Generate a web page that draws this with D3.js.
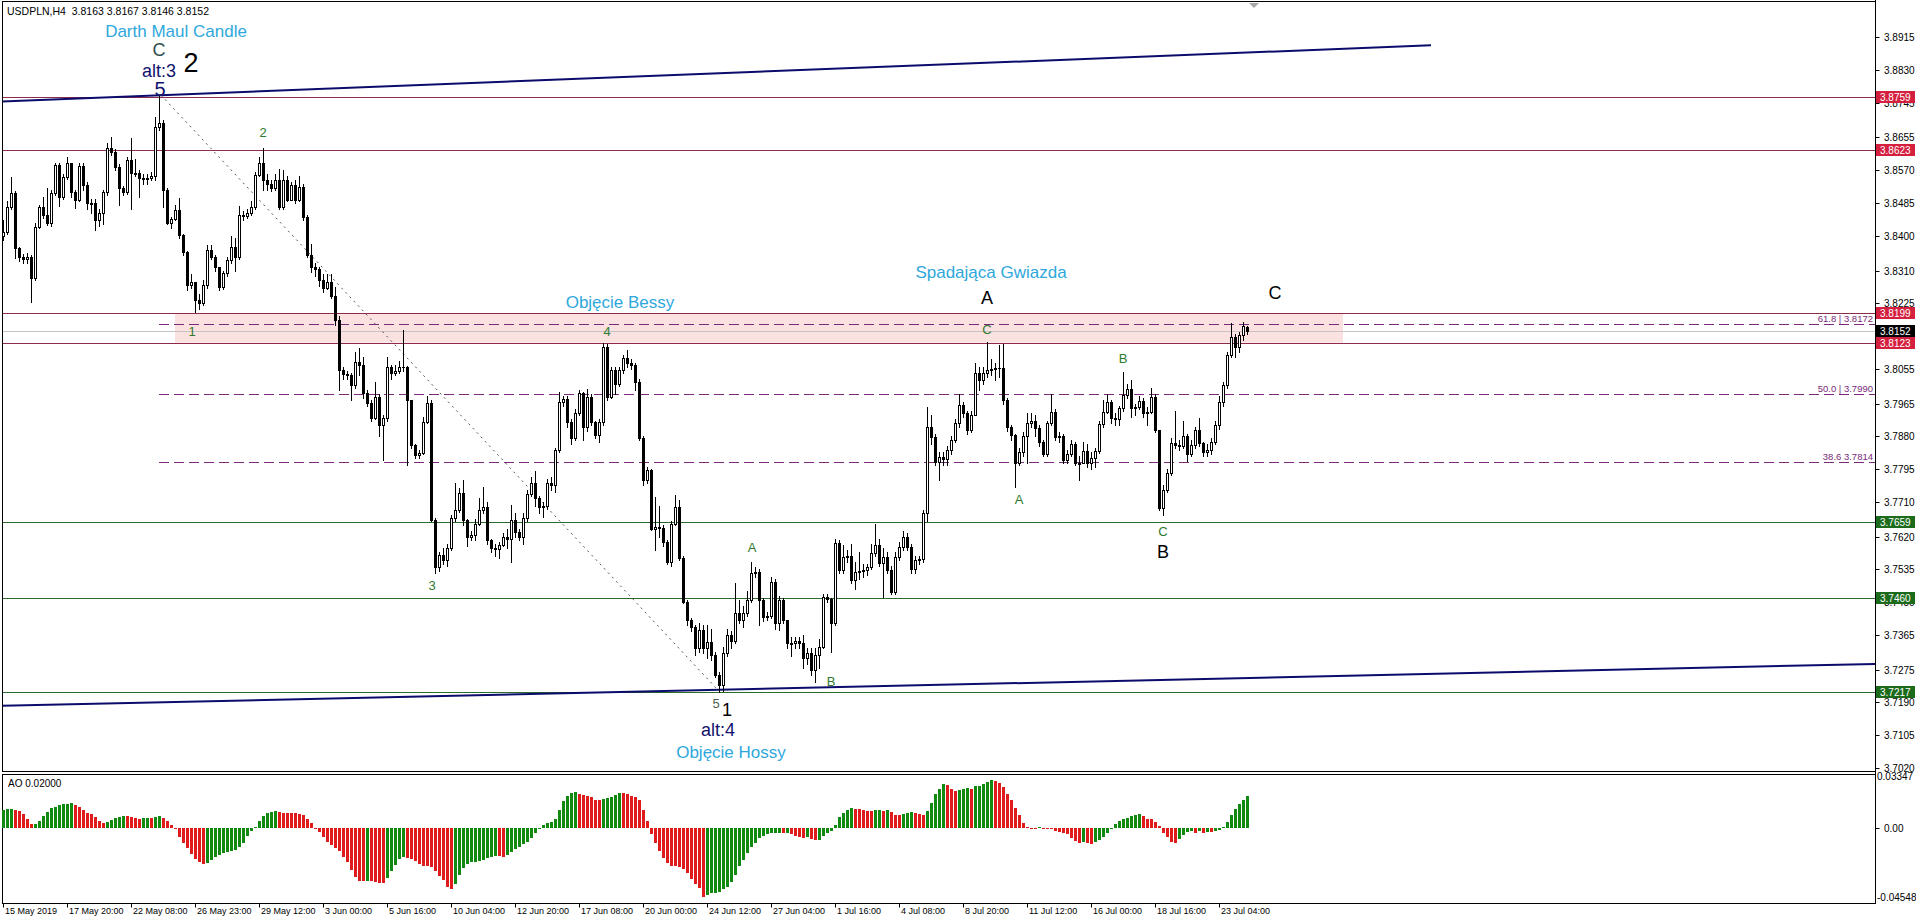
<!DOCTYPE html>
<html><head><meta charset="utf-8">
<script src="https://cdn.jsdelivr.net/npm/d3@7"></script>
<style>
body{margin:0;background:#fff;}
svg{display:block;}
text{font-family:"Liberation Sans",Arial,sans-serif;}
</style>
</head><body>
<svg id="chart" width="1916" height="923"></svg>
<script>
// ---------------- DATA ----------------
const symbolHeader = "USDPLN,H4  3.8163 3.8167 3.8146 3.8152";
const firstOpen = 3.8400;
const lastOpen = 3.8163;
const closes = [
3.8411,3.8476,3.8510,3.8368,3.8346,3.8340,3.8346,3.8290,3.8424,3.8476,
3.8454,3.8432,3.8510,3.8584,3.8501,3.8553,3.8588,3.8514,3.8493,3.8581,
3.8532,3.8484,3.8484,3.8441,3.8458,3.8514,3.8627,3.8617,3.8579,3.8523,
3.8514,3.8597,3.8562,3.8562,3.8550,3.8547,3.8550,3.8556,3.8683,3.8692,
3.8519,3.8432,3.8444,3.8467,3.8402,3.8359,3.8272,3.8280,3.8233,3.8226,
3.8272,3.8363,3.8346,3.8320,3.8268,3.8303,3.8337,3.8371,3.8346,3.8454,
3.8452,3.8460,3.8476,3.8558,3.8588,3.8545,3.8535,3.8524,3.8545,3.8476,
3.8545,3.8493,3.8532,3.8493,3.8527,3.8449,3.8350,3.8320,3.8315,3.8285,
3.8265,3.8280,3.8245,3.8182,3.8052,3.8042,3.8040,3.8013,3.8074,3.8065,
3.7992,3.7966,3.7927,3.7983,3.7909,3.7927,3.8061,3.8044,3.8050,3.8061,
3.8060,3.7974,3.7857,3.7832,3.7838,3.7918,3.7966,3.7663,3.7542,3.7572,
3.7559,3.7590,3.7667,3.7689,3.7732,3.7663,3.7620,3.7625,3.7654,3.7689,
3.7698,3.7611,3.7590,3.7588,3.7598,3.7620,3.7614,3.7663,3.7633,3.7620,
3.7667,3.7730,3.7758,3.7720,3.7696,3.7700,3.7758,3.7755,3.7845,3.7970,
3.7977,3.7918,3.7875,3.7940,3.7992,3.7905,3.7983,3.7918,3.7883,3.7916,
3.8112,3.7983,3.8052,3.8017,3.8052,3.8082,3.8069,3.8065,3.8022,3.7875,
3.7767,3.7793,3.7641,3.7645,3.7642,3.7607,3.7555,3.7654,3.7698,3.7564,
3.7451,3.7404,3.7385,3.7330,3.7378,3.7330,3.7347,3.7313,3.7261,3.7235,
3.7317,3.7365,3.7350,3.7421,3.7405,3.7421,3.7456,3.7525,3.7528,3.7456,
3.7412,3.7415,3.7503,3.7395,3.7456,3.7404,3.7343,3.7345,3.7350,3.7343,
3.7304,3.7317,3.7274,3.7313,3.7334,3.7464,3.7459,3.7395,3.7603,3.7533,
3.7568,3.7570,3.7507,3.7529,3.7531,3.7534,3.7542,3.7577,3.7598,3.7551,
3.7568,3.7533,3.7477,3.7568,3.7594,3.7618,3.7594,3.7535,3.7559,3.7562,
3.7680,3.7905,3.7879,3.7814,3.7827,3.7820,3.7845,3.7870,3.7914,3.7961,
3.7940,3.7896,3.7935,3.8043,3.8026,3.8043,3.8052,3.8055,3.8057,3.8056,
3.7974,3.7905,3.7883,3.7812,3.7840,3.7881,3.7915,3.7921,3.7901,3.7866,
3.7834,3.7915,3.7944,3.7879,3.7882,3.7819,3.7834,3.7860,3.7810,3.7812,
3.7843,3.7810,3.7825,3.7843,3.7912,3.7943,3.7970,3.7927,3.7925,3.7953,
3.7987,3.8004,3.7953,3.7955,3.7972,3.7940,3.7944,3.7983,3.7896,3.7693,
3.7741,3.7784,3.7862,3.7857,3.7855,3.7881,3.7835,3.7857,3.7896,3.7863,
3.7840,3.7845,3.7866,3.7909,3.7970,3.8013,3.8091,3.8138,3.8111,3.8143,
3.8166,3.8152];
const highs = [
3.8440,3.8490,3.8553,3.8515,3.8370,3.8352,3.8355,3.8350,3.8432,3.8480,
3.8500,3.8523,3.8520,3.8590,3.8590,3.8560,3.8605,3.8585,3.8520,3.8588,
3.8590,3.8540,3.8495,3.8495,3.8470,3.8520,3.8640,3.8657,3.8625,3.8585,
3.8530,3.8605,3.8653,3.8600,3.8570,3.8560,3.8560,3.8565,3.8709,3.8765,
3.8700,3.8525,3.8450,3.8480,3.8497,3.8405,3.8360,3.8300,3.8280,3.8250,
3.8285,3.8377,3.8375,3.8350,3.8320,3.8310,3.8345,3.8400,3.8395,3.8478,
3.8465,3.8470,3.8490,3.8565,3.8605,3.8628,3.8560,3.8545,3.8560,3.8574,
3.8570,3.8555,3.8540,3.8545,3.8555,3.8535,3.8455,3.8380,3.8330,3.8320,
3.8300,3.8300,3.8300,3.8268,3.8193,3.8060,3.8050,3.8045,3.8100,3.8110,
3.8085,3.8000,3.7975,3.8020,3.7990,3.7935,3.8087,3.8065,3.8065,3.8075,
3.8156,3.8062,3.7975,3.7860,3.7845,3.7930,3.7985,3.7975,3.7668,3.7580,
3.7590,3.7600,3.7675,3.7758,3.7745,3.7767,3.7665,3.7635,3.7665,3.7720,
3.7748,3.7710,3.7615,3.7600,3.7605,3.7630,3.7640,3.7702,3.7680,3.7640,
3.7680,3.7740,3.7775,3.7790,3.7725,3.7710,3.7770,3.7775,3.7850,3.7996,
3.7985,3.7985,3.7925,3.7950,3.8000,3.7995,3.8004,3.7990,3.7920,3.7925,
3.8121,3.8120,3.8060,3.8060,3.8060,3.8090,3.8104,3.8080,3.8070,3.8030,
3.7880,3.7800,3.7795,3.7723,3.7700,3.7650,3.7610,3.7660,3.7728,3.7715,
3.7570,3.7455,3.7410,3.7390,3.7395,3.7392,3.7390,3.7380,3.7320,3.7270,
3.7335,3.7380,3.7375,3.7500,3.7455,3.7440,3.7480,3.7555,3.7540,3.7535,
3.7460,3.7425,3.7516,3.7510,3.7465,3.7460,3.7405,3.7360,3.7360,3.7360,
3.7365,3.7330,3.7330,3.7330,3.7355,3.7470,3.7470,3.7460,3.7615,3.7610,
3.7598,3.7585,3.7600,3.7555,3.7580,3.7550,3.7550,3.7600,3.7654,3.7615,
3.7590,3.7580,3.7545,3.7580,3.7605,3.7635,3.7630,3.7600,3.7570,3.7570,
3.7690,3.7957,3.7935,3.7885,3.7840,3.7840,3.7855,3.7880,3.7925,3.7991,
3.7970,3.7945,3.7945,3.8069,3.8060,3.8060,3.8125,3.8080,3.8070,3.8117,
3.8119,3.7980,3.7910,3.7885,3.7850,3.7890,3.7940,3.7940,3.7935,3.7910,
3.7870,3.7920,3.7990,3.7950,3.7890,3.7885,3.7845,3.7870,3.7865,3.7830,
3.7865,3.7860,3.7840,3.7850,3.7920,3.7975,3.7990,3.7975,3.7940,3.7960,
3.8047,3.8015,3.8026,3.7965,3.7985,3.7980,3.7955,3.8005,3.7990,3.7895,
3.7755,3.7795,3.7875,3.7946,3.7870,3.7920,3.7885,3.7870,3.7905,3.7927,
3.7865,3.7860,3.7875,3.7920,3.7985,3.8020,3.8100,3.8175,3.8145,3.8150,
3.8177,3.8167];
const lows = [
3.8390,3.8405,3.8470,3.8342,3.8335,3.8330,3.8330,3.8229,3.8285,3.8420,
3.8445,3.8428,3.8425,3.8505,3.8478,3.8495,3.8548,3.8500,3.8472,3.8490,
3.8520,3.8470,3.8460,3.8415,3.8425,3.8430,3.8505,3.8610,3.8570,3.8480,
3.8505,3.8508,3.8470,3.8555,3.8500,3.8535,3.8535,3.8545,3.8545,3.8675,
3.8476,3.8430,3.8420,3.8440,3.8395,3.8350,3.8260,3.8265,3.8203,3.8210,
3.8220,3.8265,3.8340,3.8310,3.8260,3.8262,3.8295,3.8330,3.8310,3.8340,
3.8440,3.8445,3.8455,3.8470,3.8555,3.8520,3.8520,3.8515,3.8520,3.8470,
3.8470,3.8490,3.8495,3.8485,3.8490,3.8440,3.8345,3.8305,3.8295,3.8270,
3.8255,3.8262,3.8240,3.8170,3.8000,3.8030,3.8030,3.7975,3.8005,3.8040,
3.7980,3.7960,3.7920,3.7925,3.7880,3.7819,3.7920,3.8030,3.8040,3.8045,
3.8050,3.7806,3.7850,3.7825,3.7825,3.7835,3.7915,3.7660,3.7525,3.7530,
3.7550,3.7545,3.7585,3.7660,3.7685,3.7650,3.7596,3.7610,3.7612,3.7650,
3.7680,3.7600,3.7580,3.7570,3.7565,3.7595,3.7590,3.7555,3.7620,3.7610,
3.7600,3.7660,3.7725,3.7700,3.7680,3.7670,3.7692,3.7740,3.7735,3.7840,
3.7960,3.7905,3.7860,3.7870,3.7935,3.7870,3.7895,3.7910,3.7875,3.7866,
3.7910,3.7975,3.7980,3.7990,3.8010,3.8045,3.8060,3.8055,3.8000,3.7870,
3.7755,3.7760,3.7638,3.7585,3.7620,3.7595,3.7550,3.7545,3.7650,3.7560,
3.7448,3.7390,3.7375,3.7313,3.7320,3.7318,3.7305,3.7300,3.7255,3.7217,
3.7220,3.7310,3.7330,3.7345,3.7395,3.7385,3.7415,3.7450,3.7515,3.7390,
3.7400,3.7405,3.7410,3.7380,3.7378,3.7395,3.7330,3.7310,3.7330,3.7330,
3.7280,3.7290,3.7260,3.7244,3.7280,3.7330,3.7450,3.7322,3.7390,3.7525,
3.7525,3.7555,3.7500,3.7484,3.7510,3.7515,3.7520,3.7535,3.7570,3.7545,
3.7464,3.7525,3.7470,3.7470,3.7560,3.7585,3.7585,3.7525,3.7525,3.7550,
3.7555,3.7660,3.7860,3.7805,3.7766,3.7805,3.7805,3.7835,3.7865,3.7905,
3.7930,3.7885,3.7890,3.7935,3.8000,3.8015,3.8035,3.8040,3.8025,3.8035,
3.7965,3.7895,3.7870,3.7749,3.7805,3.7830,3.7810,3.7905,3.7880,3.7855,
3.7830,3.7830,3.7910,3.7870,3.7865,3.7810,3.7810,3.7830,3.7805,3.7768,
3.7810,3.7800,3.7795,3.7800,3.7838,3.7905,3.7940,3.7915,3.7910,3.7910,
3.7945,3.7980,3.7930,3.7935,3.7950,3.7930,3.7910,3.7940,3.7890,3.7688,
3.7676,3.7735,3.7780,3.7850,3.7845,3.7850,3.7815,3.7830,3.7850,3.7855,
3.7830,3.7830,3.7835,3.7860,3.7900,3.7960,3.8005,3.8085,3.8087,3.8100,
3.8130,3.8146];
const aoValues = [
0.0110,0.0116,0.0120,0.0114,0.0103,0.0083,0.0058,0.0021,0.0025,0.0045,
0.0072,0.0101,0.0122,0.0132,0.0141,0.0149,0.0151,0.0155,0.0141,0.0128,
0.0110,0.0095,0.0085,0.0068,0.0043,0.0029,0.0037,0.0048,0.0060,0.0066,
0.0076,0.0076,0.0070,0.0064,0.0058,0.0062,0.0064,0.0060,0.0070,0.0074,
0.0064,0.0041,0.0019,-0.0004,-0.0060,-0.0093,-0.0128,-0.0163,-0.0192,-0.0213,
-0.0223,-0.0221,-0.0200,-0.0182,-0.0167,-0.0155,-0.0151,-0.0145,-0.0136,-0.0122,
-0.0093,-0.0048,-0.0021,0.0004,0.0043,0.0072,0.0093,0.0099,0.0105,0.0099,
0.0093,0.0093,0.0091,0.0091,0.0089,0.0081,0.0058,0.0031,-0.0002,-0.0023,
-0.0058,-0.0087,-0.0107,-0.0126,-0.0147,-0.0180,-0.0215,-0.0262,-0.0304,-0.0329,
-0.0333,-0.0329,-0.0331,-0.0335,-0.0341,-0.0341,-0.0314,-0.0269,-0.0231,-0.0196,
-0.0184,-0.0190,-0.0196,-0.0207,-0.0225,-0.0240,-0.0240,-0.0244,-0.0269,-0.0298,
-0.0324,-0.0366,-0.0382,-0.0349,-0.0293,-0.0252,-0.0225,-0.0215,-0.0211,-0.0207,
-0.0198,-0.0190,-0.0180,-0.0172,-0.0172,-0.0180,-0.0169,-0.0149,-0.0132,-0.0118,
-0.0101,-0.0085,-0.0064,-0.0031,-0.0006,0.0017,0.0027,0.0039,0.0058,0.0110,
0.0167,0.0198,0.0217,0.0223,0.0213,0.0207,0.0200,0.0192,0.0176,0.0176,
0.0182,0.0186,0.0192,0.0205,0.0215,0.0215,0.0209,0.0198,0.0190,0.0174,
0.0110,0.0043,-0.0039,-0.0097,-0.0143,-0.0190,-0.0221,-0.0238,-0.0238,-0.0242,
-0.0256,-0.0283,-0.0318,-0.0349,-0.0376,-0.0428,-0.0417,-0.0407,-0.0403,-0.0397,
-0.0382,-0.0370,-0.0335,-0.0293,-0.0238,-0.0200,-0.0159,-0.0122,-0.0093,-0.0066,
-0.0052,-0.0039,-0.0035,-0.0034,-0.0033,-0.0033,-0.0031,-0.0039,-0.0052,-0.0060,
-0.0066,-0.0060,-0.0072,-0.0076,-0.0074,-0.0052,-0.0031,-0.0019,0.0017,0.0068,
0.0095,0.0110,0.0126,0.0120,0.0116,0.0114,0.0105,0.0103,0.0108,0.0110,
0.0105,0.0108,0.0099,0.0079,0.0078,0.0089,0.0093,0.0099,0.0095,0.0085,
0.0079,0.0105,0.0157,0.0209,0.0244,0.0271,0.0265,0.0240,0.0227,0.0238,
0.0244,0.0250,0.0244,0.0258,0.0262,0.0271,0.0285,0.0296,0.0289,0.0279,
0.0254,0.0213,0.0172,0.0126,0.0079,0.0031,0.0006,-0.0004,-0.0006,0.0006,
-0.0001,-0.0006,-0.0010,-0.0019,-0.0025,-0.0031,-0.0039,-0.0066,-0.0081,-0.0097,
-0.0087,-0.0097,-0.0098,-0.0087,-0.0076,-0.0060,-0.0031,-0.0004,0.0023,0.0043,
0.0054,0.0064,0.0072,0.0079,0.0085,0.0072,0.0058,0.0052,0.0037,0.0010,
-0.0031,-0.0060,-0.0087,-0.0093,-0.0072,-0.0045,-0.0025,-0.0019,-0.0031,-0.0019,
-0.0031,-0.0025,-0.0025,-0.0021,-0.0014,0.0006,0.0037,0.0079,0.0120,0.0151,
0.0176,0.0196];
const timeLabels = ["15 May 2019","17 May 20:00","22 May 08:00","26 May 23:00","29 May 12:00",
"3 Jun 00:00","5 Jun 16:00","10 Jun 04:00","12 Jun 20:00","17 Jun 08:00","20 Jun 00:00",
"24 Jun 12:00","27 Jun 04:00","1 Jul 16:00","4 Jul 08:00","8 Jul 20:00","11 Jul 12:00",
"16 Jul 00:00","18 Jul 16:00","23 Jul 04:00"];
const barsPerLabel = 16;
const priceTicks = [3.8915,3.8830,3.8745,3.8655,3.8570,3.8485,3.8400,3.8310,3.8225,
3.8055,3.7965,3.7880,3.7795,3.7710,3.7620,3.7535,3.7450,3.7365,3.7275,3.7190,3.7105,3.7020];
const redLevels = [3.8759, 3.8623, 3.8199, 3.8123];
const greenLevels = [3.7659, 3.7460, 3.7217];
const bidPrice = 3.8152;
const fibRatios = ["61.8","50.0","38.6"];
const fibPrices = [3.8172, 3.7990, 3.7814];
const fibStartBar = 39;
const zoneTop = 3.8199, zoneBottom = 3.8123, zoneStartBar = 43, zoneEndBar = 335;
const upperChannel = [[-1, 3.8748],[357, 3.8894]];
const lowerChannel = [[-1, 3.7181],[468, 3.7290]];
const waveLine = [[39.5, 3.8765],[178.5, 3.7225]];
const aoMax = 0.03347, aoMin = -0.04548;
const aoTickLabels = ["0.03347","0.00","-0.04548"];
const annotations = [
 {text:"Darth Maul Candle", bar:43.25, price:3.8931, kind:"pattern"},
 {text:"C", bar:39, price:3.8882, kind:"dark"},
 {text:"alt:3", bar:39, price:3.8827, kind:"alt"},
 {text:"2", bar:47, price:3.8848, kind:"big"},
 {text:"5", bar:39.25, price:3.8781, kind:"alt5"},
 {text:"2", bar:65, price:3.8667, kind:"minor"},
 {text:"1", bar:47.25, price:3.8151, kind:"minor"},
 {text:"3", bar:107.25, price:3.7492, kind:"minor"},
 {text:"4", bar:151, price:3.8153, kind:"minor"},
 {text:"Objęcie Bessy", bar:154.25, price:3.8226, kind:"pattern"},
 {text:"5", bar:178.25, price:3.7188, kind:"minorDark"},
 {text:"1", bar:181, price:3.7170, kind:"major"},
 {text:"alt:4", bar:178.75, price:3.7118, kind:"alt"},
 {text:"Objęcie Hossy", bar:182, price:3.7061, kind:"pattern"},
 {text:"A", bar:187.25, price:3.7593, kind:"minor"},
 {text:"B", bar:207, price:3.7245, kind:"minor"},
 {text:"Spadająca Gwiazda", bar:247, price:3.8304, kind:"pattern"},
 {text:"A", bar:246, price:3.8239, kind:"major"},
 {text:"C", bar:246, price:3.8156, kind:"minor"},
 {text:"A", bar:254, price:3.7715, kind:"minor"},
 {text:"B", bar:280, price:3.8081, kind:"minor"},
 {text:"C", bar:290, price:3.7634, kind:"minor"},
 {text:"B", bar:290, price:3.7580, kind:"major"},
 {text:"C", bar:318, price:3.8252, kind:"major"}
];

// ---------------- LAYOUT ----------------
const W = 1916, H = 923;
const axisX = 1875.5;
const mainTop = 1.5, mainBottom = 771.5, aoTop = 774.5, aoBottom = 903.5, left = 2.5;
const svg = d3.select("#chart");
const n = closes.length;
const opens = closes.map((c,i) => i === 0 ? firstOpen : (i === n-1 ? lastOpen : closes[i-1]));

const x = d3.scaleLinear().domain([0, n-1]).range([3, 3 + 4*(n-1)]);
const y = d3.scaleLinear().domain([3.7020, 3.8830]).range([768, 70]);
const yAO = d3.scaleLinear().domain([aoMin, aoMax]).range([901, 774]);

const kindStyle = {
  pattern:{fill:"#2EA8DC", size:17},
  dark:{fill:"#2F4F4F", size:18},
  alt:{fill:"#12126E", size:18},
  alt5:{fill:"#12126E", size:20},
  big:{fill:"#000", size:27},
  major:{fill:"#000", size:18},
  minor:{fill:"#2E7A2E", size:13},
  minorDark:{fill:"#4B5E4B", size:13}
};

svg.append("rect").attr("width",W).attr("height",H).attr("fill","#fff");
const defs = svg.append("defs");
defs.append("clipPath").attr("id","mainClip").append("rect")
  .attr("x",left).attr("y",mainTop).attr("width",axisX-left).attr("height",mainBottom-mainTop);

const main = svg.append("g").attr("clip-path","url(#mainClip)");

// zone rectangle
main.append("rect")
  .attr("x", x(zoneStartBar)).attr("width", x(zoneEndBar)-x(zoneStartBar))
  .attr("y", y(zoneTop)).attr("height", y(zoneBottom)-y(zoneTop))
  .attr("fill","#FCE1E1");

// horizontal levels
const hline = (p, color, w) => main.append("line")
  .attr("x1",left).attr("x2",axisX)
  .attr("y1",Math.round(y(p))+0.5).attr("y2",Math.round(y(p))+0.5)
  .attr("stroke",color).attr("stroke-width",w||1);
redLevels.forEach(p => hline(p, "#8E2B4C"));
greenLevels.forEach(p => hline(p, "#2C6B2C"));
hline(bidPrice, "#C4C4C4");

// fib dashed lines
fibPrices.forEach((p,i) => {
  main.append("line").attr("x1",x(fibStartBar)).attr("x2",axisX)
    .attr("y1",Math.round(y(p))+0.5).attr("y2",Math.round(y(p))+0.5)
    .attr("stroke","#7A2A78").attr("stroke-width",1).attr("stroke-dasharray","10,5");
});

// channel lines
const line = d3.line().x(d => x(d[0])).y(d => y(d[1]));
main.append("path").attr("d", line(upperChannel)).attr("stroke","#0B0B6B").attr("stroke-width",2).attr("fill","none");
main.append("path").attr("d", line(lowerChannel)).attr("stroke","#0B0B6B").attr("stroke-width",2).attr("fill","none");
main.append("path").attr("d", line(waveLine)).attr("stroke","#555").attr("stroke-width",1)
  .attr("stroke-dasharray","2,4").attr("fill","none");

// candles
const candles = main.append("g").attr("shape-rendering","crispEdges");
closes.forEach((c,i) => {
  const o = opens[i], h = highs[i], l = lows[i];
  const cx = Math.round(x(i));
  const top = Math.round(y(Math.max(o,c))), bot = Math.round(y(Math.min(o,c)));
  const yh = Math.round(y(Math.max(h, o, c))), yl = Math.round(y(Math.min(l, o, c)));
  candles.append("line").attr("x1",cx+0.5).attr("x2",cx+0.5).attr("y1",yh).attr("y2",yl+1)
    .attr("stroke","#000").attr("stroke-width",1);
  if (c >= o) {
    candles.append("rect").attr("x",cx-0.5).attr("y",top+0.5)
      .attr("width",2).attr("height",Math.max(bot-top,1))
      .attr("fill","#fff").attr("stroke","#000").attr("stroke-width",1);
  } else {
    candles.append("rect").attr("x",cx-1).attr("y",top)
      .attr("width",3).attr("height",Math.max(bot-top+1,1)).attr("fill","#000");
  }
});

// annotations
annotations.forEach(a => {
  const s = kindStyle[a.kind];
  svg.append("text").attr("x",x(a.bar)).attr("y",y(a.price))
    .attr("text-anchor","middle").attr("dominant-baseline","central")
    .attr("font-size",s.size).attr("fill",s.fill).text(a.text);
});

// shift marker
svg.append("path").attr("d","M1249,3 L1259,3 L1254,8 Z").attr("fill","#A8A8A8");

// header
svg.append("text").attr("x",7).attr("y",15).attr("font-size",10.5).attr("fill","#000")
  .attr("xml:space","preserve").style("white-space","pre").text(symbolHeader);

// panel borders
svg.append("rect").attr("x",left).attr("y",mainTop).attr("width",axisX-left).attr("height",mainBottom-mainTop)
  .attr("fill","none").attr("stroke","#000").attr("stroke-width",1);
svg.append("rect").attr("x",left).attr("y",aoTop).attr("width",axisX-left).attr("height",aoBottom-aoTop)
  .attr("fill","none").attr("stroke","#000").attr("stroke-width",1);

// price axis ticks
const axisG = svg.append("g");
priceTicks.forEach(p => {
  const yy = Math.round(y(p))+0.5;
  axisG.append("line").attr("x1",axisX).attr("x2",axisX+4).attr("y1",yy).attr("y2",yy).attr("stroke","#000");
  axisG.append("text").attr("x",1884).attr("y",yy).attr("dominant-baseline","central")
    .attr("font-size",10).attr("fill","#000").text(p.toFixed(4));
});

// fib labels
fibPrices.forEach((p,i) => {
  const label = i === 2 ? fibRatios[i] + " " + p.toFixed(4) : fibRatios[i] + " | " + p.toFixed(4);
  svg.append("text").attr("x",1873).attr("y",Math.round(y(p))-2)
    .attr("text-anchor","end").attr("font-size",9.5).attr("fill","#7A2A78").text(label);
});

// price boxes
const box = (p, bg) => {
  const yy = Math.round(y(p));
  svg.append("rect").attr("x",1876).attr("y",yy-6).attr("width",39).attr("height",12).attr("fill",bg);
  svg.append("text").attr("x",1880).attr("y",yy).attr("dominant-baseline","central")
    .attr("font-size",10).attr("fill","#fff").text(p.toFixed(4));
};
redLevels.forEach(p => box(p, "#D41F3E"));
greenLevels.forEach(p => box(p, "#1B6B1B"));
box(bidPrice, "#000");

// AO panel
const aoG = svg.append("g").attr("shape-rendering","crispEdges");
const zeroY = Math.round(yAO(0));
aoValues.forEach((v,i) => {
  const up = i === 0 ? true : v > aoValues[i-1];
  const vy = Math.round(yAO(v));
  aoG.append("rect").attr("x",Math.round(x(i))-1).attr("width",3)
    .attr("y",Math.min(vy,zeroY)).attr("height",Math.max(Math.abs(vy-zeroY),1))
    .attr("fill", up ? "#128A12" : "#E01B1B");
});
svg.append("text").attr("x",8).attr("y",783).attr("dominant-baseline","central")
  .attr("font-size",10).attr("fill","#000").text("AO 0.02000");
svg.append("text").attr("x",1877).attr("y",yAO(aoMax)+2).attr("dominant-baseline","central")
  .attr("font-size",10).attr("fill","#000").text(aoTickLabels[0]);
svg.append("line").attr("x1",axisX).attr("x2",axisX+4).attr("y1",zeroY+0.5).attr("y2",zeroY+0.5).attr("stroke","#000");
svg.append("text").attr("x",1884).attr("y",zeroY).attr("dominant-baseline","central")
  .attr("font-size",10).attr("fill","#000").text(aoTickLabels[1]);
svg.append("text").attr("x",1877).attr("y",yAO(aoMin)-4).attr("dominant-baseline","central")
  .attr("font-size",10).attr("fill","#000").text(aoTickLabels[2]);

// axis line
svg.append("line").attr("x1",axisX).attr("x2",axisX).attr("y1",0).attr("y2",aoBottom).attr("stroke","#000");

// time axis
timeLabels.forEach((t,k) => {
  const tx = Math.round(x(k*barsPerLabel))+0.5;
  svg.append("line").attr("x1",tx).attr("x2",tx).attr("y1",aoBottom).attr("y2",aoBottom+4).attr("stroke","#000");
  svg.append("text").attr("x",tx+1.5).attr("y",914).attr("font-size",9).attr("fill","#000").text(t);
});
</script>
</body></html>
